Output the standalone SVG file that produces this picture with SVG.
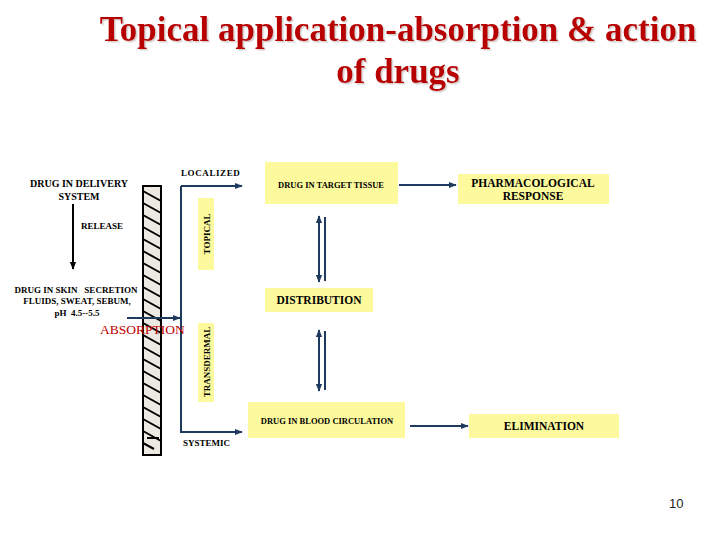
<svg xmlns="http://www.w3.org/2000/svg" width="720" height="540" viewBox="0 0 720 540">
<defs>
<style>
.t{font-weight:bold;fill:#000}
.s9{font-size:9px}
.s10{font-size:10px}
.s11{font-size:11.5px}
.box{fill:#fdfa9e}
.ln{stroke:#1f3a5f;stroke-width:2;fill:none}
.title{font-weight:bold;font-size:35px;fill:#b80000;text-anchor:middle}
</style>
<filter id="sh" x="-5%" y="-20%" width="110%" height="140%">
<feDropShadow dx="1.5" dy="1.5" stdDeviation="0.6" flood-color="#b0a0a0" flood-opacity="0.5"/>
</filter>
<marker id="ah" viewBox="0 0 10 10" refX="9" refY="5" markerWidth="4" markerHeight="4" orient="auto-start-reverse">
<path d="M0,1 L10,5 L0,9 z" fill="#1f3a5f"/>
</marker>
<marker id="ahk" viewBox="0 0 10 10" refX="9" refY="5" markerWidth="4" markerHeight="4" orient="auto">
<path d="M0,1 L10,5 L0,9 z" fill="#000"/>
</marker>
</defs>
<rect width="720" height="540" fill="#fff"/>
<g id="title" font-family="Liberation Serif, Times New Roman, serif" filter="url(#sh)">
<text class="title" x="398" y="41">Topical application-absorption &amp; action</text>
<text class="title" x="398" y="83">of drugs</text>
</g>
<g id="skin">
<rect x="143" y="186" width="18" height="269" fill="#ebe9e1" stroke="#000" stroke-width="2"/>
<g stroke="#000" stroke-width="2">
<path d="M143,191 L161,201 M143,203 L161,213 M143,215 L161,225 M143,227 L161,237 M143,239 L161,249 M143,251 L161,261 M143,263 L161,273 M143,275 L161,285 M143,287 L161,297 M143,299 L161,309 M143,311 L161,321 M143,323 L161,333 M143,335 L161,345 M143,347 L161,357 M143,359 L161,369 M143,371 L161,381 M143,383 L161,393 M143,395 L161,405 M143,407 L161,417 M143,419 L161,429 M143,431 L161,441 M143,443 L154,449"/>
<path d="M147,438 L159,438"/>
</g>
</g>
<g id="connectors">
<path class="ln" d="M181,186 L181,432 L242,432" marker-end="url(#ah)"/>
<path class="ln" d="M181,186 L242,186" marker-end="url(#ah)"/>
<path class="ln" d="M127,318 L180,318" marker-end="url(#ah)"/>
<path d="M73,204 L73,269" stroke="#000" stroke-width="2" marker-end="url(#ahk)"/>
<path class="ln" d="M399,185 L456,185" marker-end="url(#ah)"/>
<path class="ln" d="M319,216 L319,282" marker-start="url(#ah)" marker-end="url(#ah)"/>
<path class="ln" d="M325,217 L325,281"/>
<path class="ln" d="M319,330 L319,391" marker-start="url(#ah)" marker-end="url(#ah)"/>
<path class="ln" d="M325,331 L325,390"/>
<path class="ln" d="M410,426 L468,426" marker-end="url(#ah)"/>
</g>
<g font-family="Liberation Serif, Times New Roman, serif">
<g id="localized"><text class="t s9" x="181" y="176" letter-spacing="0.6">LOCALIZED</text></g>
<g id="systemic"><text class="t s9" x="183" y="446">SYSTEMIC</text></g>
<g id="delivery">
<text class="t s10" x="79" y="187" text-anchor="middle">DRUG IN DELIVERY</text>
<text class="t s10" x="79" y="200" text-anchor="middle">SYSTEM</text>
</g>
<g id="release"><text class="t s9" x="81" y="229">RELEASE</text></g>
<g id="secretion">
<text class="t s9" x="76" y="293" text-anchor="middle" xml:space="preserve">DRUG IN SKIN   SECRETION</text>
<text class="t s9" x="77" y="304" text-anchor="middle">FLUIDS, SWEAT, SEBUM,</text>
<text class="t s9" x="77" y="316" text-anchor="middle" xml:space="preserve">pH  4.5--5.5</text>
</g>
<g id="absorption"><text x="100" y="334" font-size="13.5px" fill="#c00000">ABSORPTION</text></g>
<g id="topical">
<rect class="box" x="198" y="198" width="16" height="72"/>
<text class="t s9" transform="translate(209.5,234) rotate(-90)" text-anchor="middle">TOPICAL</text>
</g>
<g id="transdermal">
<rect class="box" x="198" y="323" width="16" height="79"/>
<text class="t s9" transform="translate(209.5,362) rotate(-90)" text-anchor="middle">TRANSDERMAL</text>
</g>
<g id="target">
<rect class="box" x="265" y="162" width="133" height="42"/>
<text class="t" font-size="8.5px" x="331" y="188" text-anchor="middle">DRUG IN TARGET TISSUE</text>
</g>
<g id="response">
<rect class="box" x="458" y="174" width="151" height="30"/>
<text class="t s11" x="533" y="187" text-anchor="middle">PHARMACOLOGICAL</text>
<text class="t s11" x="533" y="200" text-anchor="middle">RESPONSE</text>
</g>
<g id="distribution">
<rect class="box" x="265" y="288" width="108" height="24"/>
<text class="t s11" x="319" y="304" text-anchor="middle">DISTRIBUTION</text>
</g>
<g id="blood">
<rect class="box" x="248" y="402" width="157" height="36"/>
<text class="t" font-size="8.5px" x="327" y="424" text-anchor="middle">DRUG IN BLOOD CIRCULATION</text>
</g>
<g id="elimination">
<rect class="box" x="469" y="414" width="150" height="24"/>
<text class="t s11" x="544" y="430" text-anchor="middle">ELIMINATION</text>
</g>
</g>
<g id="page"><text x="669" y="508" font-family="Liberation Sans, Arial, sans-serif" font-size="13px" fill="#222">10</text></g>
</svg>
